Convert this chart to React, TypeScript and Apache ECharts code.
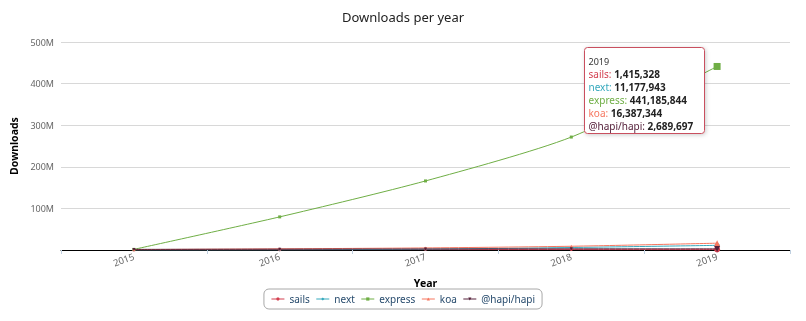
import React, { useEffect, useRef } from "react";
import * as echarts from "echarts";

const years = ["2015", "2016", "2017", "2018", "2019"];
const seriesNames = ["sails", "next", "express", "koa", "@hapi/hapi"];
const sails = [600000, 900000, 1100000, 1300000, 1415328];
const next = [0, 400000, 2000000, 6000000, 11177943];
const express = [1500000, 79600000, 166000000, 271500000, 441185844];
const koa = [900000, 2800000, 5000000, 9000000, 16387344];
const hapi = [1500000, 2000000, 2400000, 2800000, 2689697];
const yTicks = [0, 100000000, 200000000, 300000000, 400000000, 500000000];

const colors = ["#d33f4f", "#35a9bd", "#6fae45", "#f6765f", "#55203a"];
const symbols = ["circle", "diamond", "rect", "triangle", "path://M0,0 L10,0 L5,10 Z"];
const allData = [sails, next, express, koa, hapi];
const FONT = "'Lucida Grande', 'Noto Sans', 'DejaVu Sans', sans-serif";

function fmt(n: number) {
  return n.toLocaleString("en-US");
}

export default function App() {
  const ref = useRef<HTMLDivElement>(null);
  useEffect(() => {
    if (!ref.current) return;
    const chart = echarts.init(ref.current, undefined, { renderer: "svg" });
    const hoverIdx = years.length - 1;
    const rich: Record<string, any> = {
      h: { fontSize: 9, fill: "#333", fontFamily: FONT, lineHeight: 13 },
      v: { fontSize: 10, fill: "#222", fontWeight: "bold", fontFamily: FONT, lineHeight: 13 },
    };
    seriesNames.forEach((_, i) => {
      rich["n" + i] = { fontSize: 10, fill: colors[i], fontFamily: FONT, lineHeight: 13 };
    });
    const tipText =
      `{h|${years[hoverIdx]}}\n` +
      seriesNames.map((n, i) => `{n${i}|${n}: }{v|${fmt(allData[i][hoverIdx])}}`).join("\n");

    chart.setOption({
      animation: false,
      title: {
        text: "Downloads per year",
        left: "center",
        top: 5,
        textStyle: { fontSize: 13, fontWeight: "normal", color: "#222", fontFamily: FONT },
      },
      grid: { left: 61, right: 16, top: 42, bottom: 71 },
      legend: {
        bottom: 12,
        left: "center",
        data: seriesNames,
        itemWidth: 13,
        itemHeight: 4,
        itemGap: 6,
        lineStyle: { width: 1 },
        borderColor: "#a8a8a8",
        borderWidth: 1,
        borderRadius: 5,
        padding: [5, 7],
        textStyle: { fontSize: 10, color: "#274b6d", fontFamily: FONT },
      },
      xAxis: {
        type: "category",
        data: years,
        boundaryGap: true,
        name: "Year",
        nameLocation: "middle",
        nameGap: 27,
        nameTextStyle: { fontSize: 10.5, fontWeight: "bold", color: "#000", fontFamily: FONT },
        axisLine: { lineStyle: { color: "#000", width: 1 } },
        axisTick: { show: true, length: 4, lineStyle: { color: "#c0d0e0" } },
        axisLabel: { rotate: 20, fontSize: 9.5, color: "#666", fontFamily: FONT, margin: 6 },
      },
      yAxis: {
        type: "value",
        min: yTicks[0],
        max: yTicks[yTicks.length - 1],
        interval: yTicks[1] - yTicks[0],
        name: "Downloads",
        nameLocation: "middle",
        nameGap: 40,
        nameTextStyle: { fontSize: 10.5, fontWeight: "bold", color: "#000", fontFamily: FONT },
        axisLine: { show: false },
        axisTick: { show: false },
        splitLine: { lineStyle: { color: "#d8d8d8", width: 1 } },
        axisLabel: {
          fontSize: 9,
          color: "#666",
          fontFamily: FONT,
          margin: 7,
          formatter: (v: number) => (v === 0 ? "" : v / 1000000 + "M"),
        },
      },
      series: seriesNames.map((name, i) => ({
        name,
        type: "line",
        data: allData[i],
        smooth: 0.25,
        symbol: symbols[i],
        symbolSize: (_v: any, p: any) => (p.dataIndex === hoverIdx ? (i === 2 ? 7 : 6) : 3),
        showSymbol: true,
        itemStyle: { color: colors[i] },
        lineStyle: { width: 1, color: colors[i] },
        z: i === 4 ? 3 : 2,
      })),
      graphic: [
        {
          type: "group",
          left: 584,
          top: 47,
          z: 100,
          children: [
            {
              type: "rect",
              z: 100,
              shape: { x: 0, y: 0, width: 120, height: 86, r: 3 },
              style: {
                fill: "#ffffff",
                stroke: "#c9505e",
                lineWidth: 1,
                shadowBlur: 4,
                shadowColor: "rgba(0,0,0,0.2)",
                shadowOffsetX: 1,
                shadowOffsetY: 1,
              },
            },
            {
              type: "text",
              z: 101,
              x: 4,
              y: 7,
              style: { text: tipText, rich, fontFamily: FONT },
            },
          ],
        },
      ],
    });
    return () => chart.dispose();
  }, []);
  return (
    <div
      ref={ref}
      style={{ position: "fixed", left: 0, top: 0, width: 806, height: 321 }}
    />
  );
}
